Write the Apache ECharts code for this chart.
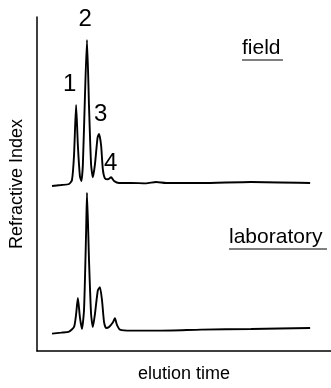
<!DOCTYPE html>
<html>
<head>
<meta charset="utf-8">
<script src="https://cdn.jsdelivr.net/npm/echarts@6/dist/echarts.min.js"></script>
<style>
html,body{margin:0;padding:0;background:#fff;}
#chart{width:331px;height:388px;}
</style>
</head>
<body>
<div id="chart"></div>
<script>
// field trace (elution time, signal)
var fieldTime = [5.1, 8.2, 10.9, 11.9, 12.6, 13.3, 13.9, 14.6, 15.1, 15.6, 16.3, 17.0, 17.7, 18.4, 19.0, 19.7, 20.6, 21.1, 21.8, 22.4, 23.1, 24.1, 25.2, 26.2, 27.9, 32.0, 37.1, 40.5, 43.9, 55.8, 72.8, 92.9];
var fieldSignal = [49.4, 49.7, 50.0, 51.2, 58.7, 73.7, 61.6, 52.3, 50.9, 55.8, 76.0, 93.1, 73.1, 55.8, 52.0, 55.8, 63.9, 65.0, 61.6, 54.3, 51.7, 51.4, 52.0, 50.9, 50.3, 50.3, 50.2, 50.6, 50.3, 50.3, 50.6, 50.3];

// laboratory trace
var labTime = [5.1, 8.2, 10.9, 12.6, 13.3, 13.9, 14.6, 15.3, 16.0, 16.7, 17.0, 17.7, 18.4, 19.0, 19.7, 20.7, 21.4, 22.1, 22.8, 23.5, 24.5, 25.9, 26.5, 27.2, 28.2, 32.0, 42.2, 55.8, 72.8, 92.9];
var labSignal = [5.2, 5.5, 5.8, 7.2, 11.0, 15.9, 10.1, 6.6, 12.4, 35.5, 47.4, 26.9, 11.0, 7.2, 11.0, 18.2, 19.1, 15.3, 8.7, 6.9, 7.2, 8.7, 9.8, 7.8, 6.4, 6.1, 6.1, 6.4, 6.6, 6.9];

var peakNames = ['1', '2', '3', '4'];

function pairs(xs, ys){
    var out = [];
    for (var i = 0; i < xs.length; i++) out.push([xs[i], ys[i]]);
    return out;
}

var chart = echarts.init(document.getElementById('chart'));
var font = 'Liberation Sans, Arial, sans-serif';
var peakPos = [[70, 86], [85.5, 21], [101, 116], [111, 165]];
var graphics = [];
peakNames.forEach(function(n, i){
    graphics.push({
        type: 'text', left: peakPos[i][0] - 7, top: peakPos[i][1] - 14,
        style: {text: n, font: '24px ' + font, fill: '#000'}
    });
});
graphics.push({type: 'text', left: 242, top: 38, style: {text: 'field', font: '21px ' + font, fill: '#000'}});
graphics.push({type: 'line', shape: {x1: 242, y1: 60, x2: 283, y2: 60}, style: {stroke: '#000', lineWidth: 1}});
graphics.push({type: 'text', left: 229, top: 227, style: {text: 'laboratory', font: '21px ' + font, fill: '#000'}});
graphics.push({type: 'line', shape: {x1: 229, y1: 249, x2: 327, y2: 249}, style: {stroke: '#000', lineWidth: 1}});

var option = {
    animation: false,
    grid: {left: 36, right: 0, top: 17, bottom: 25},
    xAxis: {
        type: 'value', min: 0, max: 100,
        name: 'elution time', nameLocation: 'middle', nameGap: 14,
        nameTextStyle: {fontSize: 18, fontFamily: font, color: '#000'},
        axisLine: {lineStyle: {color: '#000', width: 1.5}},
        axisTick: {show: false}, axisLabel: {show: false}, splitLine: {show: false}
    },
    yAxis: {
        type: 'value', min: 0, max: 100,
        name: 'Refractive Index', nameLocation: 'middle', nameGap: 11,
        nameTextStyle: {fontSize: 18, fontFamily: font, color: '#000'},
        axisLine: {show: true, lineStyle: {color: '#000', width: 1.5}},
        axisTick: {show: false}, axisLabel: {show: false}, splitLine: {show: false}
    },
    series: [{
        name: 'field', type: 'line', data: pairs(fieldTime, fieldSignal),
        showSymbol: false, smooth: 0.2,
        lineStyle: {color: '#000', width: 1.9}
    }, {
        name: 'laboratory', type: 'line', data: pairs(labTime, labSignal),
        showSymbol: false, smooth: 0.2,
        lineStyle: {color: '#000', width: 1.9}
    }],
    graphic: graphics
};
chart.setOption(option);
</script>
</body>
</html>
